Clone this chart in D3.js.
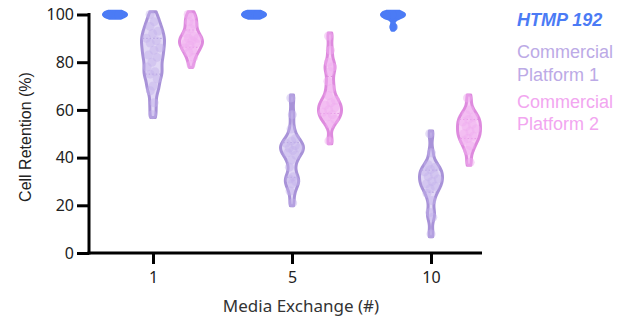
<!DOCTYPE html>
<html>
<head>
<meta charset="utf-8">
<script src="https://cdn.jsdelivr.net/npm/d3@7"></script>
<style>
  body { margin: 0; background: #fff; }
  svg { display: block; }
</style>
</head>
<body>
<div id="chart"></div>
<script>
// categories and series
var exchanges = ["1", "5", "10"];
var seriesNames = ["HTMP 192", "Commercial Platform 1", "Commercial Platform 2"];

// cell retention (%) per exchange
var htmp192 = [
    [100, 100, 100, 100, 100, 100, 99.8],
    [100, 100, 100, 100, 100, 100, 99.8],
    [100, 100, 100, 100, 100, 99.5, 94.8]
];
var platform1 = [
    [100, 97, 95, 93, 92, 90, 89, 88, 86, 85, 83, 82, 80, 78, 76, 75, 73, 70, 68, 63, 58],
    [65, 58, 52, 48, 47, 46, 45, 44, 44, 43, 42, 41, 39, 36, 32, 31, 30, 29, 26, 21],
    [50, 42, 37, 36, 35, 34, 33, 32, 31, 30, 29, 28, 27, 25, 22, 17, 15, 8]
];
var platform2 = [
    [100, 99, 97, 96, 94, 92, 91, 90, 90, 89, 88, 88, 87, 86, 85, 84, 82, 79],
    [91, 85, 80, 78, 76, 72, 69, 66, 64, 63, 62, 61, 60, 59, 58, 57, 56, 54, 47],
    [65, 60, 58, 57, 56, 55, 54, 53, 52, 51, 50, 49, 48, 47, 45, 43, 38]
];
var yTicks = [0, 20, 40, 60, 80, 100];

var width = 633;
var height = 320;

var svg = d3.select("#chart").append("svg")
    .attr("width", width)
    .attr("height", height);

var y = d3.scaleLinear().domain([0, 100]).range([253, 14.5]);
var x = d3.scalePoint().domain(exchanges).range([153, 431]);
var xOff = d3.scalePoint().domain(seriesNames).range([-38, 38]);

var styles = {
    "HTMP 192": { stroke: "#4b7bf5", fill: "#4b7bf5", fillOp: 1, dot: "#4b7bf5", dotOp: 0.9, bw: 1.3, pad: 1.4 },
    "Commercial Platform 1": { stroke: "#a892d8", fill: "#dcd1f3", fillOp: 0.85, dot: "#c3b2ea", dotOp: 0.45, bw: 2.6, pad: 1.2 },
    "Commercial Platform 2": { stroke: "#de8ade", fill: "#f6c6f3", fillOp: 0.85, dot: "#f0aef0", dotOp: 0.5, bw: 2.4, pad: 1.2 }
};
var legendColors = ["#4b7bf5", "#bcaae6", "#f2a6f0"];

var allData = [htmp192, platform1, platform2];

// kernel density on a grid between min and max
function kde(values, bw, pad) {
    var lo = d3.min(values) - pad, hi = d3.max(values) + pad;
    var n = 80, pts = [];
    for (var i = 0; i <= n; i++) {
        var v = lo + (hi - lo) * i / n;
        var d = d3.sum(values, function (u) {
            var z = (v - u) / bw;
            return Math.exp(-0.5 * z * z);
        });
        pts.push([v, d]);
    }
    var maxD = d3.max(pts, function (p) { return p[1]; });
    pts.forEach(function (p) { p[1] = p[1] / maxD; });
    return pts;
}

var halfW = 11.5;

seriesNames.forEach(function (name, si) {
    var st = styles[name];
    exchanges.forEach(function (ex, ei) {
        var vals = allData[si][ei];
        var cx = x(ex) + xOff(name);
        var dens = kde(vals, st.bw, st.pad);
        var wAt = function (v) {
            var p = dens.reduce(function (a, b) { return Math.abs(b[0] - v) < Math.abs(a[0] - v) ? b : a; });
            return p[1] * halfW;
        };

        var g = svg.append("g");

        var area = d3.area()
            .curve(d3.curveBasis)
            .y(function (p) { return y(p[0]); })
            .x0(function (p) { return cx - Math.max(p[1] * halfW, 0.3); })
            .x1(function (p) { return cx + Math.max(p[1] * halfW, 0.3); });

        g.append("path")
            .datum(dens)
            .attr("d", area)
            .attr("fill", st.fill)
            .attr("fill-opacity", st.fillOp)
            .attr("stroke", st.stroke)
            .attr("stroke-width", 3)
            .attr("stroke-linejoin", "round");

        // quartile lines
        if (si > 0) {
            var sorted = vals.slice().sort(d3.ascending);
            [0.25, 0.75].forEach(function (q) {
                var qv = d3.quantile(sorted, q);
                var w = wAt(qv) - 1;
                g.append("line")
                    .attr("x1", cx - w).attr("x2", cx + w)
                    .attr("y1", y(qv)).attr("y2", y(qv))
                    .attr("stroke", st.stroke)
                    .attr("stroke-width", 1)
                    .attr("stroke-dasharray", "1.5,2")
                    .attr("opacity", 0.9);
            });
        }

        // points
        g.selectAll("circle")
            .data(vals)
            .enter().append("circle")
            .attr("cx", function (v, i) {
                var j = ((i * 0.618034) % 1) - 0.5;
                return cx + j * 1.4 * wAt(v);
            })
            .attr("cy", function (v) { return y(v); })
            .attr("r", si === 0 ? 4 : 4.5)
            .attr("fill", st.dot)
            .attr("fill-opacity", st.dotOp);
    });
});

// y axis
var yAxis = svg.append("g")
    .attr("transform", "translate(89,0)")
    .call(d3.axisLeft(y).tickValues(yTicks).tickSize(12).tickSizeOuter(0).tickPadding(3));
yAxis.select(".domain").remove();
yAxis.selectAll(".tick line").attr("stroke", "#000").attr("stroke-width", 3);
yAxis.selectAll(".tick text")
    .attr("font-family", "'Noto Sans', sans-serif")
    .attr("font-size", 16)
    .attr("fill", "#222");
svg.append("line")
    .attr("x1", 89).attr("x2", 89)
    .attr("y1", y(100) - 1.5).attr("y2", y(0) + 1.5)
    .attr("stroke", "#000").attr("stroke-width", 3);

// x axis
var xAxis = svg.append("g")
    .attr("transform", "translate(0,253)")
    .call(d3.axisBottom(x).tickSize(11).tickSizeOuter(0).tickPadding(8));
xAxis.select(".domain").remove();
xAxis.selectAll(".tick line").attr("stroke", "#000").attr("stroke-width", 3);
xAxis.selectAll(".tick text")
    .attr("font-family", "'Noto Sans', sans-serif")
    .attr("font-size", 16)
    .attr("fill", "#222");
svg.append("line")
    .attr("x1", 87.5).attr("x2", 482)
    .attr("y1", 253).attr("y2", 253)
    .attr("stroke", "#000").attr("stroke-width", 3);

// axis titles
svg.append("text")
    .attr("transform", "translate(31,137) rotate(-90)")
    .attr("text-anchor", "middle")
    .attr("font-family", "'Liberation Sans', Arial, sans-serif")
    .attr("font-size", 16)
    .attr("fill", "#222")
    .text("Cell Retention (%)");

svg.append("text")
    .attr("x", 301)
    .attr("y", 312)
    .attr("text-anchor", "middle")
    .attr("font-family", "'Noto Sans', sans-serif")
    .attr("font-size", 17)
    .attr("fill", "#333")
    .text("Media Exchange (#)");

// legend
var legendLines = [
    { text: "HTMP 192", y: 26, c: 0, bold: true },
    { text: "Commercial", y: 58, c: 1 },
    { text: "Platform 1", y: 81, c: 1 },
    { text: "Commercial", y: 108, c: 2 },
    { text: "Platform 2", y: 130, c: 2 }
];
svg.selectAll(".legend")
    .data(legendLines)
    .enter().append("text")
    .attr("class", "legend")
    .attr("x", 517)
    .attr("y", function (d) { return d.y; })
    .attr("font-family", "'Liberation Sans', Arial, sans-serif")
    .attr("font-size", 18)
    .attr("font-weight", function (d) { return d.bold ? "bold" : "normal"; })
    .attr("font-style", function (d) { return d.bold ? "italic" : "normal"; })
    .attr("fill", function (d) { return legendColors[d.c]; })
    .text(function (d) { return d.text; });
</script>
</body>
</html>
